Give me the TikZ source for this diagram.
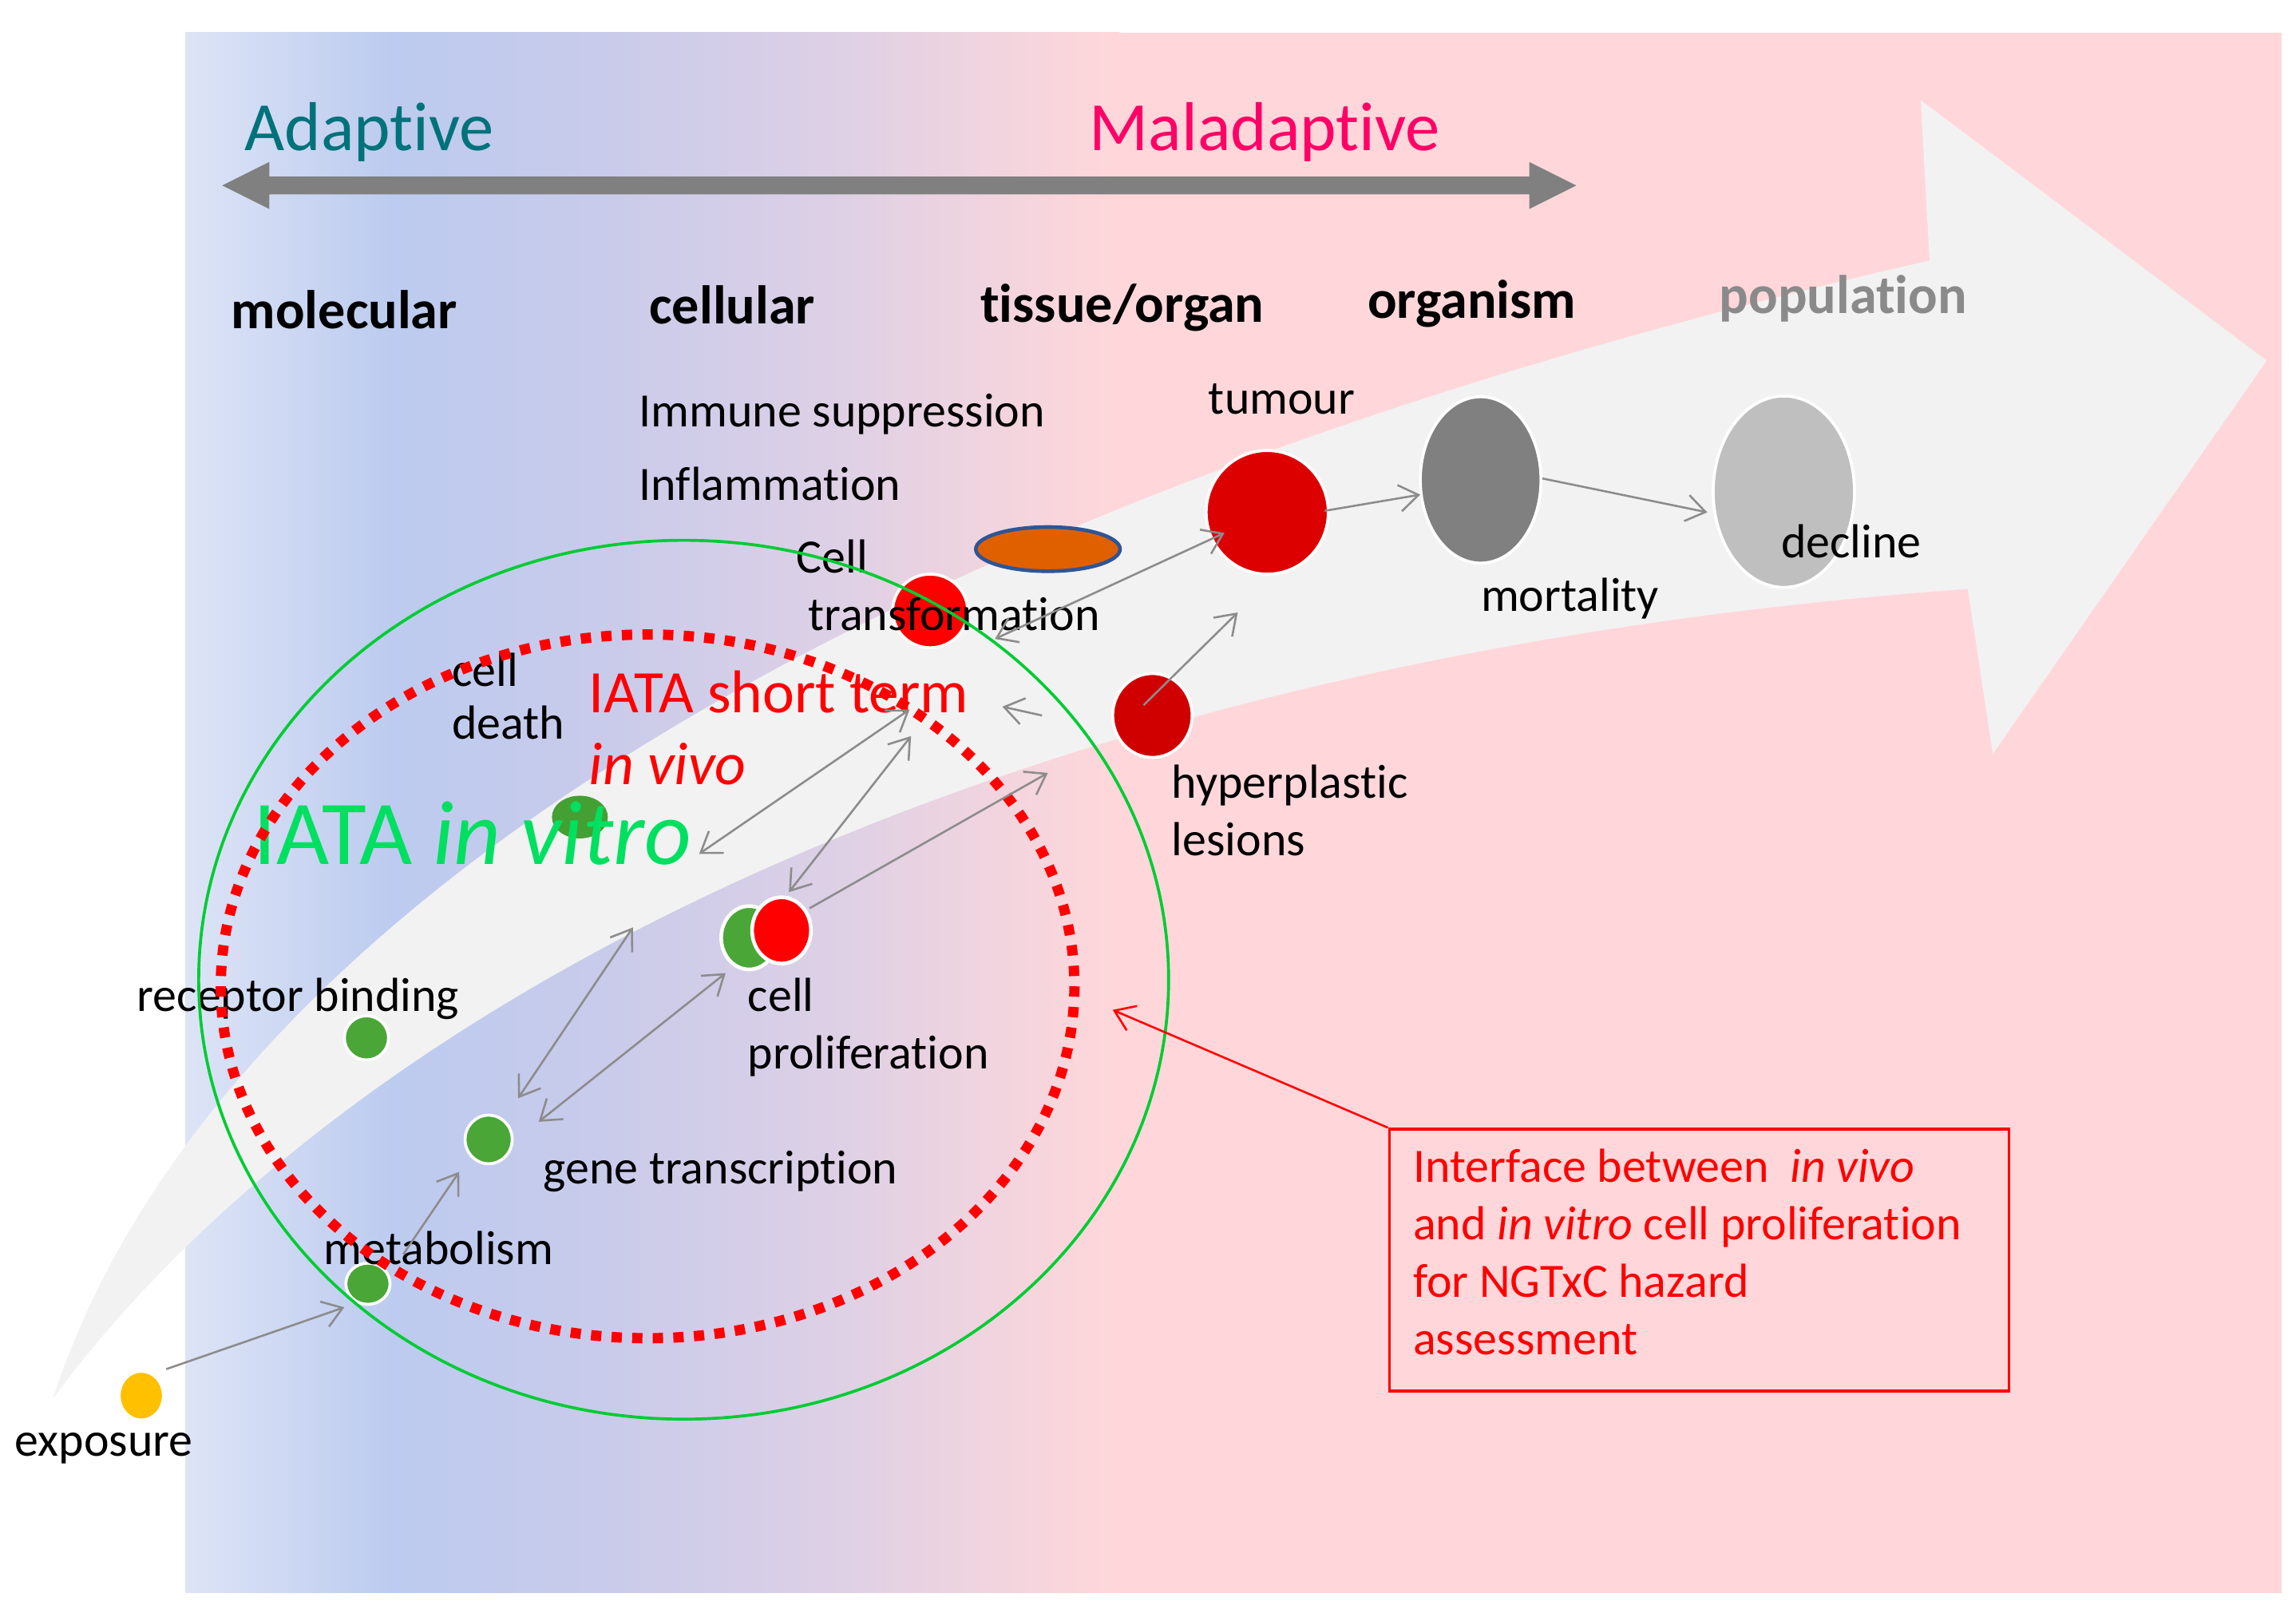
\documentclass[tikz,border=0pt]{standalone}
\usepackage{fontspec}
\setmainfont{Carlito}[Ligatures=NoCommon]
\usetikzlibrary{arrows.meta,shapes.geometric}
\definecolor{bgA}{HTML}{DDE4F6}
\definecolor{bgB}{HTML}{BCCBEF}
\definecolor{bgC}{HTML}{CACBEA}
\definecolor{bgD}{HTML}{DCD0E6}
\definecolor{bgE}{HTML}{F6D5DD}
\definecolor{bgF}{HTML}{FFD7DA}
\definecolor{bandc}{HTML}{F2F2F2}
\definecolor{bigarrow}{HTML}{808080}
\definecolor{conngray}{HTML}{8C8C8C}
\definecolor{teal}{HTML}{00727A}
\definecolor{magenta}{HTML}{FF0066}
\definecolor{popgray}{HTML}{8A8A8A}
\definecolor{vitrogreen}{HTML}{00E060}
\definecolor{dotgreen}{HTML}{4AA637}
\definecolor{deathgreen}{HTML}{44A033}
\definecolor{ringgreen}{HTML}{00CC33}
\definecolor{pureRed}{HTML}{FF0000}
\definecolor{tumred}{HTML}{DD0000}
\definecolor{hyperred}{HTML}{D00000}
\definecolor{orangefill}{HTML}{E06000}
\definecolor{orangeedge}{HTML}{2E5597}
\definecolor{mortgray}{HTML}{808080}
\definecolor{declgray}{HTML}{BFBFBF}
\definecolor{expyellow}{HTML}{FFC000}
\begin{document}
\begin{tikzpicture}[x=1pt,y=-1pt,
  lab/.style={font=\fontsize{32.5}{39}\selectfont, inner sep=0pt, anchor=base west},
  level/.style={font=\fontsize{37}{44}\selectfont\bfseries, inner sep=0pt, anchor=base west},
  big/.style={font=\fontsize{47}{56}\selectfont, inner sep=0pt, anchor=base west},
  blob/.style={ellipse, inner sep=0pt, draw=white, line width=2pt},
  barb/.tip={Straight Barb[length=13pt,width=18pt]},
  conn/.style={draw=conngray, line width=1.4pt},
]
\useasboundingbox (0,0) rectangle (1560,1101);
% background
\shade[left color=bgA,right color=bgB] (126,22) rectangle (266.5,1082);
\shade[left color=bgB,right color=bgC] (266,22) rectangle (420.5,1082);
\shade[left color=bgC,right color=bgD] (420,22) rectangle (560.5,1082);
\shade[left color=bgD,right color=bgE] (560,22) rectangle (700.5,1082);
\shade[left color=bgE,right color=bgF] (700,22) rectangle (760.5,1082);
\fill[bgF] (760,22) rectangle (1550,1082);
% big curved arrow
\fill[bandc] (36,950) .. controls (150,600) and (640,330) .. (1311,177)
  -- (1305,68) -- (1540,245) -- (1354,512) -- (1337,400)
  .. controls (650,450) and (220,700) .. (36,950) -- cycle;
% adaptive / maladaptive arrow
\fill[bigarrow] (151,126) -- (183,110) -- (183,120) -- (1039,120) -- (1039,110)
  -- (1071,126) -- (1039,142) -- (1039,132) -- (183,132) -- (183,142) -- cycle;
\node[big, text=teal] (adaptive) at (166,102) {Adaptive};
\node[big, text=magenta] (maladaptive) at (740,102) {Maladaptive};
% level labels
\node[level] (molecular) at (157,223) {molecular};
\node[level] (cellular) at (441,220) {cellular};
\node[level] (tissue) at (666,219) {tissue/organ};
\node[level] (organism) at (929,216) {organism};
\node[level, text=popgray] (population) at (1168,213) {population};
% blobs
\node[blob, fill=expyellow, draw=none, minimum width=28pt, minimum height=31pt] (exposure) at (96,948) {};
\node[blob, fill=dotgreen, minimum width=30pt, minimum height=28pt] (metab) at (250,872) {};
\node[blob, fill=dotgreen, minimum width=32pt, minimum height=33pt] (gene) at (332,774) {};
\node[blob, fill=dotgreen, minimum width=30pt, minimum height=30pt] (receptor) at (249,705) {};
\node[blob, fill=deathgreen, draw=none, minimum width=38pt, minimum height=29pt] (death) at (394,555) {};
\node[blob, fill=dotgreen, line width=2.5pt, minimum width=38pt, minimum height=43pt] (prolG) at (509,637) {};
\node[blob, fill=pureRed, line width=2.5pt, minimum width=40pt, minimum height=45pt] (prolR) at (531,632) {};
\node[blob, fill=pureRed, minimum width=51pt, minimum height=50pt] (transf) at (632,415) {};
\node[ellipse, inner sep=0pt, fill=orangefill, draw=orangeedge, line width=2.5pt, minimum width=98pt, minimum height=30pt] (orange) at (712,373) {};
\node[blob, fill=tumred, minimum width=83pt, minimum height=84pt] (tumour) at (861,348) {};
\node[blob, fill=hyperred, minimum width=54pt, minimum height=57pt] (hyper) at (783,486) {};
\node[blob, fill=mortgray, minimum width=82pt, minimum height=113pt] (mort) at (1006,326) {};
\node[blob, fill=declgray, minimum width=96pt, minimum height=130pt] (decl) at (1212,334) {};
% texts
\node[lab] (tImmune) at (434,290) {Immune suppression};
\node[lab] (tInfl) at (434,340) {Inflammation};
\node[lab] (tCell) at (541,389) {Cell};
\node[lab] (tTransf) at (549,428) {transformation};
\node[lab] (tTumour) at (821,281) {tumour};
\node[lab] (tHyper1) at (796,542) {hyperplastic};
\node[lab] (tHyper2) at (796,581) {lesions};
\node[lab] (tProl1) at (508,687) {cell};
\node[lab] (tProl2) at (508,726) {proliferation};
\node[lab] (tMort) at (1006,415) {mortality};
\node[lab] (tDecl) at (1210,379) {decline};
\node[lab] (tDeath1) at (307,466) {cell};
\node[lab] (tDeath2) at (307,502) {death};
\node[lab] (tRec) at (93,687) {receptor binding};
\node[lab] (tGene) at (369,804) {gene transcription};
\node[lab] (tMetab) at (220,859) {metabolism};
\node[lab] (tExp) at (10,989) {exposure};
\node[inner sep=0pt, anchor=base west, font=\fontsize{41}{49}\selectfont, text=pureRed] (short) at (400,484) {IATA short term};
\node[inner sep=0pt, anchor=base west, font=\fontsize{41}{49}\selectfont\itshape, text=pureRed] (vivo) at (400,533) {in vivo};
\node[inner sep=0pt, anchor=base west, font=\fontsize{62}{72}\selectfont, text=vitrogreen] (vitro) at (172,587) {IATA \textit{in vitro}};
% rings
\draw[ringgreen, line width=2pt] (464.5,665.5) ellipse [x radius=329.5, y radius=298.5];
\draw[pureRed, line width=7pt, dash pattern=on 7pt off 7pt] (440,670) ellipse [x radius=290, y radius=239];
% connector end points
\coordinate (e1a) at (113,930); \coordinate (e1b) at (234,888);
\coordinate (e2a) at (274,852); \coordinate (e2b) at (312,796);
\coordinate (e3a) at (352,746); \coordinate (e3b) at (430,630);
\coordinate (e4a) at (366,762); \coordinate (e4b) at (493,661);
\coordinate (e5a) at (475,580); \coordinate (e5b) at (618,482);
\coordinate (e6a) at (536,606); \coordinate (e6b) at (619,500);
\coordinate (e7a) at (550,617); \coordinate (e7b) at (712,525);
\coordinate (e8a) at (708,486); \coordinate (e8b) at (681,480);
\coordinate (e9a) at (676,434); \coordinate (e9b) at (832,362);
\coordinate (e10a) at (777,479); \coordinate (e10b) at (841,416);
\coordinate (e11a) at (900,347); \coordinate (e11b) at (965,336);
\coordinate (e12a) at (1048,325); \coordinate (e12b) at (1160,348);
% connectors
\draw[conn, -barb] (e1a) -- (e1b);
\draw[conn, -barb] (e2a) -- (e2b);
\draw[conn, barb-barb] (e3a) -- (e3b);
\draw[conn, barb-barb] (e4a) -- (e4b);
\draw[conn, barb-barb] (e5a) -- (e5b);
\draw[conn, barb-barb] (e6a) -- (e6b);
\draw[conn, -barb] (e7a) -- (e7b);
\draw[conn, -barb] (e8a) -- (e8b);
\draw[conn, barb-barb] (e9a) -- (e9b);
\draw[conn, -barb] (e10a) -- (e10b);
\draw[conn, -barb] (e11a) -- (e11b);
\draw[conn, -barb] (e12a) -- (e12b);
% note box
\node[draw=pureRed, line width=1.8pt, inner sep=0pt, minimum width=421pt, minimum height=178pt, anchor=north west] (box) at (943,766) {};
\coordinate (ringpt) at (756,686);
\draw[pureRed, line width=1.4pt, -barb] (box.north west) -- (ringpt);
\node[lab, text=pureRed] (b1) at (960,803) {Interface between\ \ \textit{in vivo}};
\node[lab, text=pureRed] (b2) at (960,842) {and \textit{in vitro} cell proliferation};
\node[lab, text=pureRed] (b3) at (960,881) {for NGTxC hazard};
\node[lab, text=pureRed] (b4) at (960,920) {assessment};
\end{tikzpicture}
\end{document}
